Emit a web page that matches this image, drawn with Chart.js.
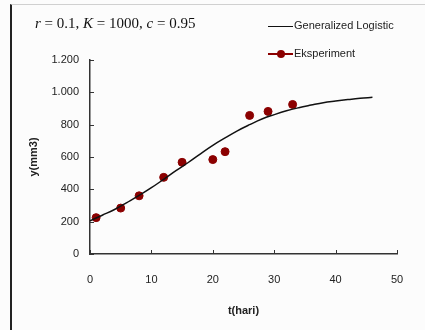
<!DOCTYPE html>
<html>
<head>
<meta charset="utf-8">
<script src="https://cdn.jsdelivr.net/npm/chart.js@4.4.1/dist/chart.umd.min.js"></script>
<style>
  body { margin: 0; background: #fcfcfc; }
  #wrap { position: relative; width: 425px; height: 330px; overflow: hidden; }
  #frame { position: absolute; left: 10px; top: 4px; right: 0; bottom: 0;
           border-left: 2px solid #222; border-top: 1px solid #d0d0d0; }
  canvas { position: absolute; left: 0; top: 0; }
  #title { position: absolute; left: 35px; top: 15px; font-family: "Liberation Serif", serif;
           font-size: 15px; color: #111; white-space: nowrap; }
  .leg { position: absolute; left: 268px; font-family: "Liberation Sans", Arial, sans-serif;
         font-size: 11px; color: #222; white-space: nowrap; }
  .leg .ln { display: inline-block; width: 25px; height: 1px; background: #111;
             vertical-align: middle; position: relative; margin-right: 1px; }
  .leg .red { background: #8b0000; height: 2px; }
  .leg .dot { position: absolute; left: 9px; top: -3px; width: 8px; height: 8px;
              border-radius: 50%; background: #8b0000; }
</style>
</head>
<body>
<div id="wrap">
  <div id="frame"></div>
  <canvas id="chart" width="425" height="330"></canvas>
  <div id="title"><i>r</i> = 0.1, <i>K</i> = 1000, <i>c</i> = 0.95</div>
  <div class="leg" style="top:19px"><span class="ln"></span>Generalized Logistic</div>
  <div class="leg" style="top:47px"><span class="ln red"><span class="dot"></span></span>Eksperiment</div>
</div>
<script>
// model curve
const curveT = [0, 2, 4, 6, 8, 10, 12, 14, 16, 18, 20, 22, 24, 26, 28, 30, 32, 34, 36, 38, 40, 42, 44, 46];
const curveY = [205, 240, 275, 318, 362, 410, 462, 515, 566, 620, 672, 718, 762, 800, 835, 862, 886, 905, 921, 936, 946, 955, 963, 969];

// experiment points
const expT = [1, 5, 8, 12, 15, 20, 22, 26, 29, 33];
const expY = [225, 284, 360, 474, 567, 584, 633, 857, 882, 925];

const yTicks = [0, 200, 400, 600, 800, 1000, 1200];
const xTicks = [0, 10, 20, 30, 40, 50];

const fmt = v => String(v).replace(/\B(?=(\d{3})+(?!\d))/g, '.');

const tickFont = { family: '"Liberation Sans", Arial, sans-serif', size: 11 };
const titleFont = { family: '"Liberation Sans", Arial, sans-serif', size: 11, weight: 'bold' };

// small tick marks drawn inside the plot, like the original
const innerTicks = {
  id: 'innerTicks',
  afterDraw(chart) {
    const ctx = chart.ctx;
    const xs = chart.scales.x, ys = chart.scales.y;
    ctx.save();
    ctx.strokeStyle = '#333';
    ctx.lineWidth = 1;
    ctx.beginPath();
    yTicks.forEach(v => {
      const p = Math.round(ys.getPixelForValue(v)) + 0.5;
      ctx.moveTo(xs.left, p); ctx.lineTo(xs.left + 4, p);
    });
    xTicks.forEach(v => {
      const p = Math.round(xs.getPixelForValue(v)) + 0.5;
      ctx.moveTo(p, ys.bottom); ctx.lineTo(p, ys.bottom - 4);
    });
    ctx.stroke();
    ctx.restore();
  }
};

new Chart(document.getElementById('chart'), {
  type: 'scatter',
  data: {
    datasets: [
      {
        label: 'Generalized Logistic',
        data: curveT.map((t, i) => ({ x: t, y: curveY[i] })),
        showLine: true,
        borderColor: '#111',
        borderWidth: 1.5,
        pointRadius: 0,
        tension: 0.4
      },
      {
        label: 'Eksperiment',
        data: expT.map((t, i) => ({ x: t, y: expY[i] })),
        showLine: false,
        backgroundColor: '#8b0000',
        borderColor: '#8b0000',
        pointRadius: 4,
        pointHoverRadius: 4
      }
    ]
  },
  options: {
    responsive: false,
    animation: false,
    layout: { padding: { left: 0, top: 60, right: 28, bottom: 0 } },
    plugins: { legend: { display: false }, title: { display: false }, tooltip: { enabled: false } },
    scales: {
      x: {
        type: 'linear', min: 0, max: 50,
        afterFit(s) { s.height = 76; },
        afterBuildTicks(s) { s.ticks = xTicks.map(v => ({ value: v })); },
        grid: { display: true, drawOnChartArea: false, drawTicks: false },
        border: { color: '#333', width: 1.5 },
        ticks: { font: tickFont, color: '#222', padding: 19, maxRotation: 0 },
        title: { display: true, text: 't(hari)', font: titleFont, color: '#222', padding: { top: 0, bottom: 12 } }
      },
      y: {
        min: 0, max: 1200,
        afterFit(s) { s.width = 90; },
        afterBuildTicks(s) { s.ticks = yTicks.map(v => ({ value: v })); },
        grid: { display: true, drawOnChartArea: false, drawTicks: false },
        border: { color: '#333', width: 1.5 },
        ticks: { font: tickFont, color: '#222', padding: 11, callback: v => fmt(v) },
        title: { display: true, text: 'y(mm3)', font: titleFont, color: '#222', padding: { top: 27, bottom: 0 } }
      }
    }
  },
  plugins: [innerTicks]
});
</script>
</body>
</html>
